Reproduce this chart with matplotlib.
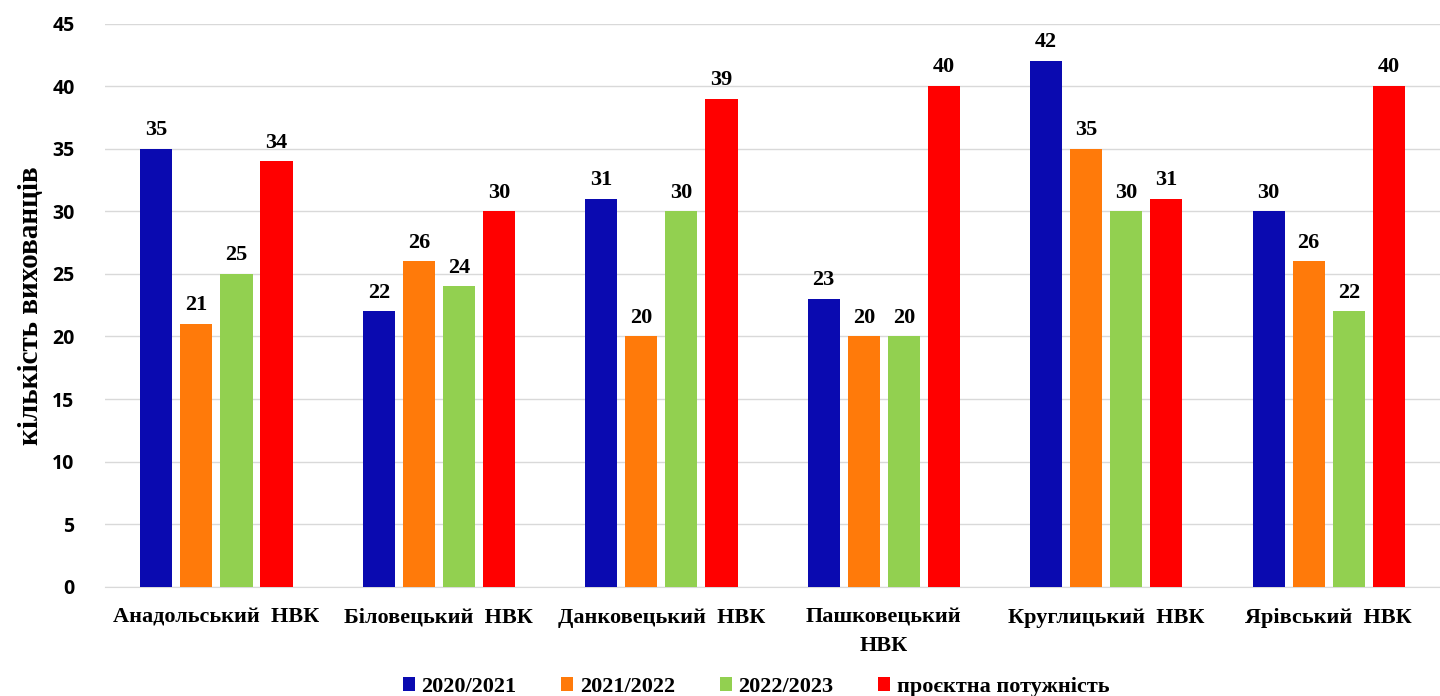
import matplotlib
matplotlib.use("Agg")
import matplotlib.pyplot as plt
import numpy as np

categories = ["Анадольський  НВК", "Біловецький  НВК", "Данковецький  НВК",
              "Пашковецький\nНВК", "Круглицький  НВК", "Ярівський  НВК"]
series_names = ["2020/2021", "2021/2022", "2022/2023", "проєктна потужність"]
v2020 = [35, 22, 31, 23, 42, 30]
v2021 = [21, 26, 20, 20, 35, 26]
v2022 = [25, 24, 30, 20, 30, 22]
vproj = [34, 30, 39, 40, 31, 40]
colors = ["#0A0AB0", "#FF7A0A", "#92D050", "#FF0000"]
yticks = [0, 5, 10, 15, 20, 25, 30, 35, 40, 45]

fig = plt.figure(figsize=(14.4, 6.96), dpi=100)
ax = fig.add_axes([0.073, 0.157, 0.927, 0.809])

x = np.arange(len(categories))
step = 0.18
width = 0.145
serif = ["Liberation Serif", "DejaVu Serif"]
for i, (vals, name, c) in enumerate(zip([v2020, v2021, v2022, vproj], series_names, colors)):
    pos = x + (i - 1.5) * step
    ax.bar(pos, vals, width=width, color=c, label=name, zorder=3)
    for xp, v in zip(pos, vals):
        ax.text(xp, v + 0.7, str(v), ha="center", va="bottom", fontsize=16,
                fontweight="bold", family=serif)

ax.set_xlim(-0.5, len(categories) - 0.5)
ax.set_ylim(0, 45)
ax.set_yticks(yticks)
ax.set_yticklabels([str(t) for t in yticks], fontsize=14, fontweight="bold",
                   family=["Open Sans", "DejaVu Sans"])
ax.set_xticks(x)
ax.set_xticklabels(categories, fontsize=16, fontweight="bold", family=serif, linespacing=1.55)
ax.tick_params(axis="x", length=0, pad=15)
ax.tick_params(axis="y", length=0, pad=22)
ax.grid(axis="y", color="#D9D9D9", linewidth=1, zorder=0)
for s in ["top", "right", "left"]:
    ax.spines[s].set_visible(False)
ax.spines["bottom"].set_color("#D9D9D9")
ax.set_ylabel("кількість вихованців", fontsize=21, fontweight="bold", family=serif, labelpad=6)

fig.legend(loc="lower center", bbox_to_anchor=(0.525, -0.03), ncol=4, frameon=False,
           prop={"family": serif, "weight": "bold", "size": 16},
           handlelength=0.55, handleheight=0.55, handletextpad=0.3, columnspacing=2.0)

fig.savefig("out.png", dpi=100)
